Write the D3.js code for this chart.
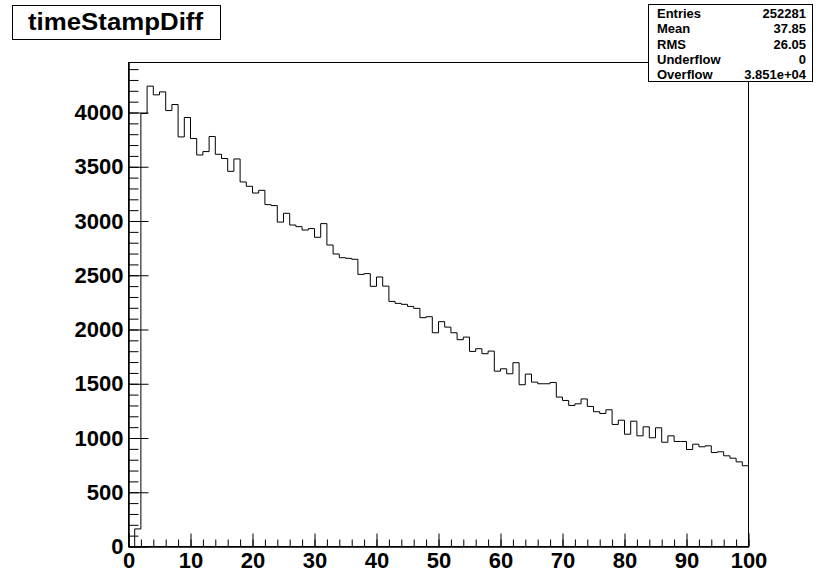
<!DOCTYPE html>
<html>
<head>
<meta charset="utf-8">
<script src="https://cdn.jsdelivr.net/npm/d3@7"></script>
<style>
  html, body { margin: 0; padding: 0; background: #fff; }
  svg { display: block; }
  text { font-family: "Liberation Sans", Arial, Helvetica, sans-serif; font-weight: bold; fill: #000; }
</style>
</head>
<body>
<svg id="chart" width="821" height="572"></svg>
<script>
// Histogram "timeStampDiff": 100 bins over [0, 100)
const binLow = 0;
const binHigh = 100;
const binCounts = [
  0, 162, 3991, 4243, 4163, 4190, 4018, 4074, 3775, 3954,
  3760, 3609, 3640, 3779, 3615, 3576, 3458, 3572, 3360, 3320,
  3258, 3283, 3151, 3142, 2990, 3071, 2963, 2948, 2917, 2930,
  2850, 2976, 2779, 2696, 2662, 2656, 2647, 2508, 2515, 2398,
  2484, 2400, 2259, 2241, 2232, 2213, 2195, 2109, 2118, 1970,
  2072, 2022, 1970, 1906, 1930, 1798, 1823, 1777, 1801, 1616,
  1638, 1592, 1694, 1491, 1589, 1515, 1500, 1500, 1512, 1377,
  1346, 1300, 1315, 1360, 1291, 1242, 1226, 1260, 1125, 1164,
  1035, 1155, 1020, 1103, 1002, 1094, 961, 1020, 968, 968,
  894, 943, 919, 928, 866, 873, 836, 814, 780, 744
];
const yMax = 4461;

// Axis ticks
const xMajorTicks = [0, 10, 20, 30, 40, 50, 60, 70, 80, 90, 100];
const xMinorTicks = d3.range(0, 101, 2);
const yMajorTicks = [0, 500, 1000, 1500, 2000, 2500, 3000, 3500, 4000];
const yMinorTicks = d3.range(0, 4401, 100);

// Statistics box rows
const statLabels = ["Entries", "Mean", "RMS", "Underflow", "Overflow"];
const statValues = ["252281", "37.85", "26.05", "0", "3.851e+04"];
const title = "timeStampDiff";

const svg = d3.select("#chart");
const frame = { left: 128.5, right: 748.5, top: 62.5, bottom: 546.5 };

const x = d3.scaleLinear().domain([binLow, binHigh]).range([frame.left, frame.right]);
const y = d3.scaleLinear().domain([0, yMax]).range([frame.bottom, frame.top]);

// Frame
svg.append("rect")
  .attr("x", frame.left).attr("y", frame.top)
  .attr("width", frame.right - frame.left).attr("height", frame.bottom - frame.top)
  .attr("fill", "none").attr("stroke", "#000").attr("stroke-width", 1);

// Histogram outline (step shape)
const binWidth = (binHigh - binLow) / binCounts.length;
const pts = [[binLow, 0]];
binCounts.forEach((c, i) => {
  pts.push([binLow + i * binWidth, c]);
  pts.push([binLow + (i + 1) * binWidth, c]);
});
pts.push([binHigh, 0]);
const line = d3.line().x(d => x(d[0])).y(d => y(d[1]));
svg.append("path")
  .attr("d", line(pts))
  .attr("fill", "none").attr("stroke", "#000").attr("stroke-width", 1);

// Y axis: minor ticks then major ticks with labels (ticks point inward)
const yMinor = svg.append("g").attr("transform", `translate(${frame.left},0)`)
  .call(d3.axisLeft(y).tickValues(yMinorTicks).tickSize(-10).tickSizeOuter(0).tickFormat(""));
const yMajor = svg.append("g").attr("transform", `translate(${frame.left},0)`)
  .call(d3.axisLeft(y).tickValues(yMajorTicks).tickSize(-20).tickSizeOuter(0).tickPadding(5).tickFormat(d3.format("d")));

// X axis
const xMinor = svg.append("g").attr("transform", `translate(0,${frame.bottom})`)
  .call(d3.axisBottom(x).tickValues(xMinorTicks).tickSize(-7).tickSizeOuter(0).tickFormat(""));
const xMajor = svg.append("g").attr("transform", `translate(0,${frame.bottom})`)
  .call(d3.axisBottom(x).tickValues(xMajorTicks).tickSize(-13).tickSizeOuter(0).tickPadding(6).tickFormat(d3.format("d")));

[yMinor, yMajor, xMinor, xMajor].forEach(g => {
  g.select(".domain").attr("stroke", "#000");
  g.selectAll(".tick line").attr("stroke", "#000");
  g.selectAll(".tick text")
    .attr("font-size", 22)
    .attr("font-family", "'Liberation Sans', Arial, Helvetica, sans-serif")
    .attr("font-weight", "bold")
    .attr("fill", "#000");
});

// Title box
svg.append("rect")
  .attr("x", 12.5).attr("y", 5.5).attr("width", 208).attr("height", 34)
  .attr("fill", "#fff").attr("stroke", "#000").attr("stroke-width", 1);
svg.append("text")
  .attr("x", 28).attr("y", 29.5)
  .attr("font-size", 23)
  .attr("textLength", 175)
  .attr("lengthAdjust", "spacingAndGlyphs")
  .text(title);

// Statistics box
const sb = { x: 648.5, y: 4.5, w: 164, h: 77 };
svg.append("rect")
  .attr("x", sb.x).attr("y", sb.y).attr("width", sb.w).attr("height", sb.h)
  .attr("fill", "#fff").attr("stroke", "#000").attr("stroke-width", 1);
statLabels.forEach((lab, i) => {
  const by = 18.3 + i * 15.1;
  svg.append("text").attr("x", 657).attr("y", by)
    .attr("font-size", 13).text(lab);
  svg.append("text").attr("x", 806).attr("y", by)
    .attr("font-size", 13).attr("text-anchor", "end").text(statValues[i]);
});
</script>
</body>
</html>
